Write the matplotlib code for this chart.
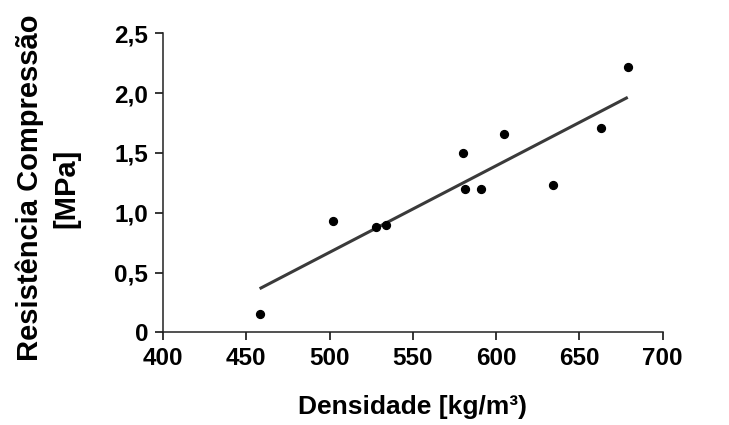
import matplotlib
matplotlib.use("Agg")
import matplotlib.pyplot as plt

plt.rcParams['font.family'] = ['Liberation Sans', 'DejaVu Sans']
plt.rcParams['font.weight'] = 'bold'

# measured points: density [kg/m3] vs compressive strength [MPa]
densidade = [458, 502, 528, 534, 580, 581, 591, 605, 634, 663, 679]
resistencia = [0.15, 0.93, 0.88, 0.90, 1.50, 1.20, 1.20, 1.66, 1.23, 1.71, 2.22]

# trend line end points
linha_x = [458, 679]
linha_y = [0.365, 1.965]

x_ticks = [400, 450, 500, 550, 600, 650, 700]
y_ticks = [0, 0.5, 1.0, 1.5, 2.0, 2.5]
y_labels = ['0', '0,5', '1,0', '1,5', '2,0', '2,5']

fig = plt.figure(figsize=(7.29, 4.25), dpi=100)
ax = fig.add_axes([0.2236, 0.218, 0.6855, 0.7036])

ax.plot(linha_x, linha_y, color='#3a3a3a', linewidth=2.2, solid_capstyle='butt')
ax.scatter(densidade, resistencia, s=32, color='black', zorder=3)

ax.set_xlim(400, 700)
ax.set_ylim(0, 2.5)
ax.set_xticks(x_ticks)
ax.set_yticks(y_ticks)
ax.set_yticklabels(y_labels)

for s in ['top', 'right']:
    ax.spines[s].set_visible(False)
for s in ['left', 'bottom']:
    ax.spines[s].set_linewidth(1.1)
    ax.spines[s].set_color('#222222')

ax.tick_params(direction='out', length=5.8, width=1.1, labelsize=17.5, pad=5)

ax.set_xlabel('Densidade [kg/m³)', fontsize=19, fontweight='bold', labelpad=18)
ax.set_ylabel('Resistência Compressão\n[MPa]', fontsize=21, fontweight='bold',
              linespacing=1.4)
ax.yaxis.set_label_coords(-0.165, 0.483)

fig.savefig('out.png', dpi=100)
